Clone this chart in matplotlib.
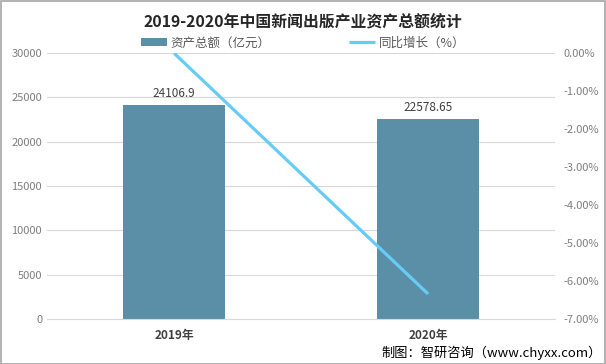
import matplotlib
matplotlib.use("Agg")
import matplotlib.pyplot as plt
from matplotlib.ticker import FuncFormatter, MultipleLocator
from matplotlib.patches import Rectangle

plt.rcParams['font.family'] = ['Noto Sans CJK SC', 'DejaVu Sans']

categories = ['2019年', '2020年']
assets = [24106.9, 22578.65]
growth = [0.00, -6.34]
asset_labels = ['24106.9', '22578.65']

fig = plt.figure(figsize=(6.06, 3.64), dpi=100)
ax = fig.add_axes([0.0776, 0.1236, 0.8384, 0.7304])
x = list(range(len(categories)))
bar_color = '#5B8FA8'
line_color = '#66CCF5'
bars = ax.bar(x, assets, width=0.4, color=bar_color, label='资产总额（亿元）', zorder=2)
for xi, v, lab in zip(x, assets, asset_labels):
    ax.text(xi, v + 600, lab, ha='center', va='bottom', fontsize=8.5, color='#404040')
ax.set_xlim(-0.5, 1.5)
ax.set_ylim(0, 30000)
ax.yaxis.set_major_locator(MultipleLocator(5000))
ax.grid(axis='y', color='#D9D9D9', linewidth=0.8, zorder=0)
ax.set_axisbelow(True)
for s in ax.spines.values():
    s.set_visible(False)
ax.spines['bottom'].set_visible(True)
ax.spines['bottom'].set_color('#D9D9D9')
ax.tick_params(axis='both', length=0, colors='#7F7F7F', labelsize=8)
ax.set_xticks(x)
ax.set_xticklabels(categories, fontsize=8.5, fontweight='bold', color='#404040')
ax.tick_params(axis='x', pad=7)

ax2 = ax.twinx()
ax2.plot(x, growth, color=line_color, linewidth=2.3, label='同比增长（%）', zorder=5, solid_capstyle='butt')
ax2.set_ylim(-7, 0)
ax2.yaxis.set_major_locator(MultipleLocator(1))
ax2.yaxis.set_major_formatter(FuncFormatter(lambda v, p: f'{v:.2f}%'))
for s in ax2.spines.values():
    s.set_visible(False)
ax2.tick_params(axis='y', length=0, colors='#7F7F7F', labelsize=8, pad=6)
ax.set_zorder(1)
ax2.set_zorder(2)
ax2.patch.set_visible(False)

h1, l1 = ax.get_legend_handles_labels()
h2, l2 = ax2.get_legend_handles_labels()
fig.legend(h1 + h2, l1 + l2, loc='center', bbox_to_anchor=(0.5, 0.882), ncol=2, frameon=False,
           fontsize=9, labelcolor='#595959', handlelength=2.1, columnspacing=6.3, handletextpad=0.25)

fig.text(0.5, 0.942, '2019-2020年中国新闻出版产业资产总额统计', ha='center', va='center',
         fontsize=11.4, fontweight='bold', color='#262626')
fig.text(0.993, 0.03, '制图：智研咨询（www.chyxx.com）', ha='right', va='center', fontsize=9.5, color='#000000')

fig.patches.append(Rectangle((0.001, 0.001), 0.997, 0.997, transform=fig.transFigure,
                             fill=False, edgecolor='#A6A6A6', linewidth=1.2))
fig.savefig('out.png', dpi=100)
